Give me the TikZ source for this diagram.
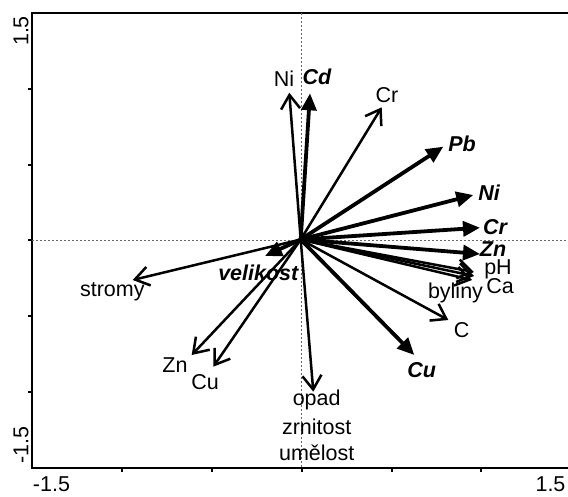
\documentclass[tikz,border=0pt]{standalone}
\usepackage{fontspec}
\setmainfont{Liberation Sans}
\usetikzlibrary{arrows.meta}
\begin{document}
\begin{tikzpicture}[x=1pt,y=-1pt,
  lab/.style={font=\fontsize{21.5}{24}\selectfont, inner sep=0pt},
  blab/.style={font=\fontsize{21.5}{24}\selectfont\bfseries\itshape, inner sep=0pt},
  thinarr/.style={line width=2.5pt, -{Straight Barb[length=14pt,width=19pt,line width=2.5pt]}},
  boldarr/.style={line width=3.8pt, -{Triangle[length=17pt,width=15pt]}},
  axisline/.style={line width=2pt},
  guide/.style={dash pattern=on 2pt off 2pt, black!60, line width=0.8pt},
]
\useasboundingbox (0,0) rectangle (568,496);
% frame
\coordinate (TR) at (568,13);
\coordinate (TL) at (32,13);
\coordinate (BL) at (32,468);
\coordinate (BR) at (568,468);
\draw[axisline] (TR) -- (TL) -- (BL) -- (BR);
\foreach \y in {89,165,240,316,392} \draw[axisline] (28,\y) -- (32,\y);
\foreach \x in {121.7,211.7,301.7,391.7,481.3} \draw[axisline] (\x,468) -- (\x,472);
% guide lines
\coordinate (HL) at (32,240);
\coordinate (HR) at (568,240);
\coordinate (VT) at (301,13);
\coordinate (VB) at (301,468);
\draw[guide] (HL) -- (HR);
\draw[guide] (VT) -- (VB);
% axis labels
\node[lab, rotate=90] (yt) at (21,31) {1.5};
\node[lab, rotate=90] (yb) at (21,445) {-1.5};
\node[lab] (xl) at (51.5,484) {-1.5};
\node[lab] (xr) at (550.5,484) {1.5};
% origin
\coordinate (O) at (300.7,239.5);
% tips
\coordinate (tNi) at (289.3,92.7);
\coordinate (tCd) at (310,93.3);
\coordinate (tCr) at (381.7,107.3);
\coordinate (tPb) at (443.3,146.7);
\coordinate (tNiB) at (473.3,195);
\coordinate (tCrB) at (480,227.7);
\coordinate (tZnB) at (480,254);
\coordinate (tpH) at (474,272);
\coordinate (tCa) at (474,276);
\coordinate (tby) at (472,280);
\coordinate (tC) at (448.3,320);
\coordinate (tst) at (132.7,280);
\coordinate (tvel) at (265,256);
\coordinate (tZn) at (191.7,355);
\coordinate (tCu) at (213.3,366.7);
\coordinate (top) at (313.3,391.7);
\coordinate (tCuB) at (414.3,355);
% arrows
\draw[thinarr] (O) -- (tNi);
\draw[boldarr] (O) -- (tCd);
\draw[thinarr] (O) -- (tCr);
\draw[boldarr] (O) -- (tPb);
\draw[boldarr] (O) -- (tNiB);
\draw[boldarr] (O) -- (tCrB);
\draw[boldarr] (O) -- (tZnB);
\draw[thinarr] (O) -- (tpH);
\draw[thinarr] (O) -- (tCa);
\draw[thinarr] (O) -- (tby);
\draw[thinarr] (O) -- (tC);
\draw[thinarr] (O) -- (tst);
\draw[boldarr] (O) -- (tvel);
\draw[thinarr] (O) -- (tZn);
\draw[thinarr] (O) -- (tCu);
\draw[thinarr] (O) -- (top);
\draw[boldarr] (O) -- (tCuB);
% labels
\node[lab] (lNi) at (284,79) {Ni};
\node[blab] (lCd) at (317,77) {Cd};
\node[lab] (lCr) at (387,95) {Cr};
\node[blab] (lPb) at (462,144) {Pb};
\node[blab] (lNiB) at (489,193) {Ni};
\node[blab] (lCrB) at (495,227) {Cr};
\node[blab] (lZnB) at (493,249.5) {Zn};
\node[lab] (lpH) at (498,269.5) {pH};
\node[lab] (lCa) at (500,286) {Ca};
\node[lab] (lby) at (455.5,292.5) {byliny};
\node[lab] (lC) at (461.7,330) {C};
\node[lab] (lst) at (112.3,292) {stromy};
\node[blab] (lvel) at (258.3,273.3) {velikost};
\node[lab] (lZn) at (175,365) {Zn};
\node[lab] (lCu) at (205,381.7) {Cu};
\node[lab] (lop) at (316.7,400) {opad};
\node[lab] (lzr) at (316.7,426.7) {zrnitost};
\node[lab] (lum) at (316.7,453) {umělost};
\node[blab] (lCuB) at (421.7,370) {Cu};
\end{tikzpicture}
\end{document}
